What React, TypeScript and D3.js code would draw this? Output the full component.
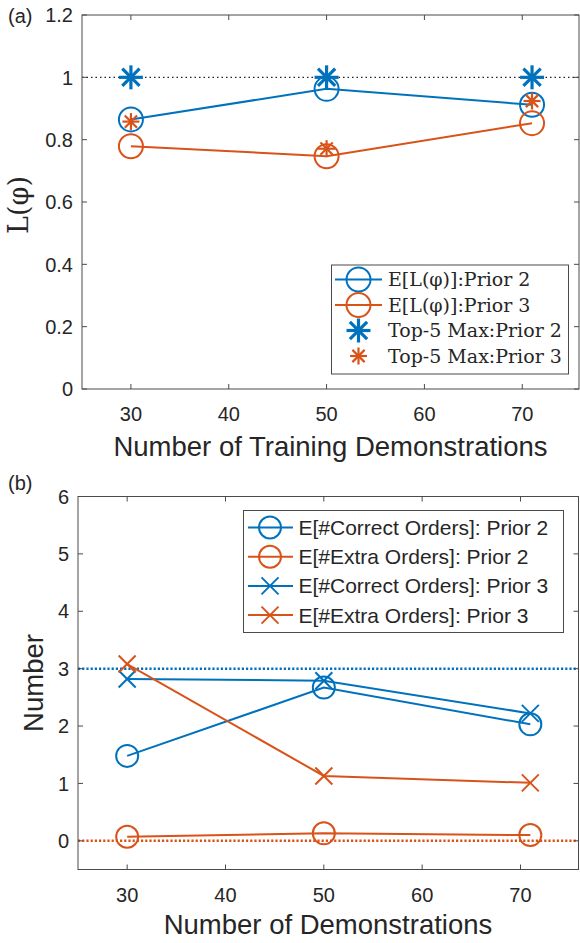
import React from "react";
import * as d3 from "d3";

const BLUE = "#0072BD";
const ORANGE = "#D95319";
const AXIS = "#4a4a4a";
const SANS = "'Liberation Sans', Arial, Helvetica, sans-serif";
const SERIF = "'DejaVu Serif', serif";

// Panel (a)
const xA = [30, 50, 71];
const expPrior2 = [0.865, 0.963, 0.912];
const expPrior3 = [0.779, 0.747, 0.853];
const topPrior2 = [1.0, 1.0, 1.0];
const topPrior3 = [0.858, 0.771, 0.924];
const xTicksA = [30, 40, 50, 60, 70];
const yTicksA = [0, 0.2, 0.4, 0.6, 0.8, 1, 1.2];
const legendA = ["E[L(φ)]:Prior 2", "E[L(φ)]:Prior 3", "Top-5 Max:Prior 2", "Top-5 Max:Prior 3"];

// Panel (b)
const xB = [30, 50, 71];
const correctPrior2 = [1.48, 2.67, 2.03];
const extraPrior2 = [0.07, 0.13, 0.1];
const correctPrior3 = [2.82, 2.79, 2.22];
const extraPrior3 = [3.08, 1.13, 1.01];
const xTicksB = [30, 40, 50, 60, 70];
const yTicksB = [0, 1, 2, 3, 4, 5, 6];
const legendB = [
  "E[#Correct Orders]: Prior 2",
  "E[#Extra Orders]: Prior 2",
  "E[#Correct Orders]: Prior 3",
  "E[#Extra Orders]: Prior 3",
];

type MarkerKind = "circle" | "star" | "x";

function Marker({ kind, x, y, color, size, sw }: { kind: MarkerKind; x: number; y: number; color: string; size: number; sw: number }) {
  if (kind === "circle") {
    return <circle cx={x} cy={y} r={size} fill="none" stroke={color} strokeWidth={sw} />;
  }
  if (kind === "x") {
    const s = size;
    return (
      <g stroke={color} strokeWidth={sw}>
        <line x1={x - s} y1={y - s} x2={x + s} y2={y + s} />
        <line x1={x - s} y1={y + s} x2={x + s} y2={y - s} />
      </g>
    );
  }
  const s = size;
  const d = s * 0.72;
  return (
    <g stroke={color} strokeWidth={sw}>
      <line x1={x - s} y1={y} x2={x + s} y2={y} />
      <line x1={x} y1={y - s} x2={x} y2={y + s} />
      <line x1={x - d} y1={y - d} x2={x + d} y2={y + d} />
      <line x1={x - d} y1={y + d} x2={x + d} y2={y - d} />
    </g>
  );
}

function Frame({ x, y, xTicks, yTicks, yFmt }: any) {
  const [l, r] = x.range();
  const [b, t] = y.range();
  const tl = 5;
  return (
    <g>
      <rect x={l} y={t} width={r - l} height={b - t} fill="none" stroke={AXIS} strokeWidth={1} />
      {xTicks.map((v: number) => (
        <g key={"x" + v} stroke={AXIS} strokeWidth={1}>
          <line x1={x(v)} x2={x(v)} y1={b} y2={b - tl} />
          <line x1={x(v)} x2={x(v)} y1={t} y2={t + tl} />
        </g>
      ))}
      {yTicks.map((v: number) => (
        <g key={"y" + v} stroke={AXIS} strokeWidth={1}>
          <line x1={l} x2={l + tl} y1={y(v)} y2={y(v)} />
          <line x1={r} x2={r - tl} y1={y(v)} y2={y(v)} />
        </g>
      ))}
      {xTicks.map((v: number) => (
        <text key={"xl" + v} x={x(v)} y={b + 32} textAnchor="middle" fontFamily={SANS} fontSize={20} fill="#262626">
          {v}
        </text>
      ))}
      {yTicks.map((v: number) => (
        <text key={"yl" + v} x={l - 9} y={y(v)} dy="0.36em" textAnchor="end" fontFamily={SANS} fontSize={20} fill="#262626">
          {yFmt(v)}
        </text>
      ))}
    </g>
  );
}

export default function App() {
  // Panel (a) scales
  const xa = d3.scaleLinear().domain([25, 75.8]).range([82, 579]);
  const ya = d3.scaleLinear().domain([0, 1.2]).range([389, 15]);
  // Panel (b) scales
  const xb = d3.scaleLinear().domain([25, 75.9]).range([78, 578.5]);
  const yb = d3.scaleLinear().domain([-0.5, 6]).range([869.5, 496.5]);

  const lineA = (vals: number[]) =>
    d3.line<number>().x((_, i) => xa(xA[i])).y((v) => ya(v))(vals) as string;
  const lineB = (vals: number[]) =>
    d3.line<number>().x((_, i) => xb(xB[i])).y((v) => yb(v))(vals) as string;

  const fmtA = (v: number) => (v === 0 || v === 1 ? String(v) : d3.format(".1f")(v));

  const seriesA = [
    { vals: expPrior2, color: BLUE, kind: "circle" as MarkerKind, line: true, size: 12, sw: 2 },
    { vals: expPrior3, color: ORANGE, kind: "circle" as MarkerKind, line: true, size: 12, sw: 2 },
    { vals: topPrior2, color: BLUE, kind: "star" as MarkerKind, line: false, size: 12, sw: 3.2 },
    { vals: topPrior3, color: ORANGE, kind: "star" as MarkerKind, line: false, size: 8.5, sw: 2.2 },
  ];
  const seriesB = [
    { vals: correctPrior2, color: BLUE, kind: "circle" as MarkerKind, size: 11, sw: 2 },
    { vals: extraPrior2, color: ORANGE, kind: "circle" as MarkerKind, size: 11, sw: 2 },
    { vals: correctPrior3, color: BLUE, kind: "x" as MarkerKind, size: 8.5, sw: 2 },
    { vals: extraPrior3, color: ORANGE, kind: "x" as MarkerKind, size: 8.5, sw: 2 },
  ];

  const [aL, aR] = xa.range();
  const [bL, bR] = xb.range();

  return (
    <svg width={580} height={943} style={{ position: "absolute", left: 0, top: 0, background: "#fff" }}>
      {/* Panel (a) */}
      <text x={8} y={23} fontFamily={SANS} fontSize={20} fill="#262626">(a)</text>
      <line x1={aL} x2={aR} y1={ya(1)} y2={ya(1)} stroke="#222" strokeWidth={1.4} strokeDasharray="1.5 3" />
      {seriesA.map((s, si) => (
        <g key={"sa" + si}>
          {s.line && <path d={lineA(s.vals)} fill="none" stroke={s.color} strokeWidth={2} />}
          {s.vals.map((v, i) => (
            <Marker key={i} kind={s.kind} x={xa(xA[i])} y={ya(v)} color={s.color} size={s.size} sw={s.sw} />
          ))}
        </g>
      ))}
      <Frame x={xa} y={ya} xTicks={xTicksA} yTicks={yTicksA} yFmt={fmtA} />
      <text x={330.5} y={456} textAnchor="middle" fontFamily={SANS} fontSize={27.5} fill="#262626">
        Number of Training Demonstrations
      </text>
      <text transform={`translate(28,205) rotate(-90)`} textAnchor="middle" fontFamily={SERIF} fontSize={27} fill="#262626">
        L(φ)
      </text>
      {/* Legend (a) */}
      <rect x={331.5} y={265} width={237} height={109} fill="#fff" stroke={AXIS} strokeWidth={1} />
      {seriesA.map((s, i) => {
        const cy = 279.5 + i * 25.5;
        return (
          <g key={"la" + i}>
            {s.line && <line x1={335} x2={382} y1={cy} y2={cy} stroke={s.color} strokeWidth={2} />}
            <Marker kind={s.kind} x={358.5} y={cy} color={s.color} size={s.size} sw={s.sw} />
            <text x={388} y={cy} dy="0.35em" fontFamily={SERIF} fontSize={19} fill="#262626">
              {legendA[i]}
            </text>
          </g>
        );
      })}

      {/* Panel (b) */}
      <text x={8} y={490} fontFamily={SANS} fontSize={20} fill="#262626">(b)</text>
      <line x1={bL} x2={bR} y1={yb(3)} y2={yb(3)} stroke={BLUE} strokeWidth={2.5} strokeDasharray="2.2 2" />
      <line x1={bL} x2={bR} y1={yb(0)} y2={yb(0)} stroke={ORANGE} strokeWidth={2.5} strokeDasharray="2.2 2" />
      {seriesB.map((s, si) => (
        <g key={"sb" + si}>
          <path d={lineB(s.vals)} fill="none" stroke={s.color} strokeWidth={2} />
          {s.vals.map((v, i) => (
            <Marker key={i} kind={s.kind} x={xb(xB[i])} y={yb(v)} color={s.color} size={s.size} sw={s.sw} />
          ))}
        </g>
      ))}
      <Frame x={xb} y={yb} xTicks={xTicksB} yTicks={yTicksB} yFmt={(v: number) => String(v)} />
      <text x={328} y={934} textAnchor="middle" fontFamily={SANS} fontSize={27.5} fill="#262626">
        Number of Demonstrations
      </text>
      <text transform={`translate(43,683) rotate(-90)`} textAnchor="middle" fontFamily={SANS} fontSize={27.5} fill="#262626">
        Number
      </text>
      {/* Legend (b) */}
      <rect x={243.5} y={510.5} width={320} height={122} fill="#fff" stroke={AXIS} strokeWidth={1} />
      {seriesB.map((s, i) => {
        const cy = 527.5 + i * 29.2;
        return (
          <g key={"lb" + i}>
            <line x1={248} x2={293} y1={cy} y2={cy} stroke={s.color} strokeWidth={2} />
            <Marker kind={s.kind} x={270} y={cy} color={s.color} size={s.size} sw={s.sw} />
            <text x={298.5} y={cy} dy="0.36em" fontFamily={SANS} fontSize={21} fill="#262626">
              {legendB[i]}
            </text>
          </g>
        );
      })}
    </svg>
  );
}
